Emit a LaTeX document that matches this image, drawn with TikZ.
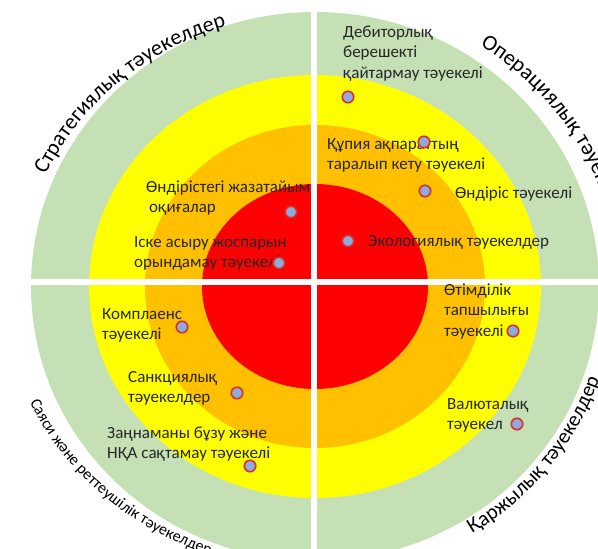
\documentclass[tikz,border=0pt]{standalone}
\usepackage{fontspec}
\setmainfont{Carlito}
\usetikzlibrary{decorations.text}
\definecolor{ringgreen}{HTML}{C5E0B4}
\definecolor{ringyellow}{HTML}{FFFF00}
\definecolor{ringorange}{HTML}{FFC000}
\definecolor{ringred}{HTML}{FF0000}
\definecolor{dotblue}{HTML}{8FAADC}
\definecolor{dotrim}{HTML}{D9302C}
\definecolor{inktext}{HTML}{262626}
\newcommand{\lblfont}{\fontsize{17}{20.5}\selectfont}
\newcommand{\arcfont}{\fontsize{22}{25}\selectfont}
\newcommand{\smallarcfont}{\fontsize{16}{19}\selectfont}

\begin{document}
\begin{tikzpicture}
[x=1pt,y=1pt,
 risk/.style={circle,draw=dotrim,fill=dotblue,line width=1.6pt,inner sep=0pt,minimum size=11.5pt},
 lbl/.style={anchor=north west,align=left,inner sep=0pt,text=inktext,font=\lblfont},
 band/.style={fill=white,draw=none}]
\useasboundingbox (0,0) rectangle (598,549);
\clip (0,0) rectangle (598,549);
\coordinate (C) at (315,262.5);

\fill[ringgreen] (C) ellipse [x radius=284, y radius=274.5];
\fill[ringyellow] (C) ellipse [x radius=226, y radius=211.5];
\fill[ringorange] (C) ellipse [x radius=170, y radius=161.5];
\fill[ringred] (C) ellipse [x radius=113, y radius=102.5];

\fill[band] (311,0) rectangle (317,549);
\fill[band] (0,264) rectangle (598,270);

\path[decorate,decoration={text along path,text align=center,
    text={|\arcfont|Стратегиялық тәуекелдер}}]
  ([shift={(166:295 and 273)}]C) arc[start angle=166,end angle=98,x radius=295,y radius=273];
\path[decorate,decoration={text along path,text align=left,
    text={|\arcfont|Операциялық тәуекелдер}}]
  ([shift={(57:303 and 287)}]C) arc[start angle=57,end angle=-20,x radius=303,y radius=287];
\path[decorate,decoration={text along path,text align=center,
    text={|\fontsize{21}{24}\selectfont|Қаржылық тәуекелдер}}]
  ([shift={(-59:300 and 290)}]C) arc[start angle=-59,end angle=-18,x radius=300,y radius=290];
\path[decorate,decoration={text along path,text align=center,
    text={|\smallarcfont|Саяси және реттеушілік тәуекелдер}}]
  ([shift={(201:312 and 285)}]C) arc[start angle=201,end angle=253,x radius=312,y radius=285];

\node[lbl] (debt) at (343,526.4) {\strut Дебиторлық\\берешекті\\қайтармау тәуекелі};
\node[lbl] (leak) at (327,414.4) {\strut Құпия ақпараттың\\таралып кету тәуекелі};
\node[lbl] (prod) at (455,365.4) {\strut Өндіріс тәуекелі};
\node[lbl] (eco) at (368,317.4) {\strut Экологиялық тәуекелдер};
\node[lbl] (acc) at (146,371.4) {\strut Өндірістегі жазатайым\\\hspace*{3pt}оқиғалар};
\node[lbl] (plan) at (134,316.4) {\strut Іске асыру жоспарын\\орындамау тәуекелі};
\node[lbl] (comp) at (102,244.4) {\strut Комплаенс\\тәуекелі};
\node[lbl] (sanc) at (128,181.4) {\strut Санкциялық\\тәуекелдер};
\node[lbl] (law) at (107,125.4) {\strut Заңнаманы бұзу және\\НҚА сақтамау тәуекелі};
\node[lbl] (liq) at (444,268.4) {\strut Өтімділік\\тапшылығы\\тәуекелі};
\node[lbl] (fx) at (447,154.4) {\strut Валюталық\\тәуекел};

\node[risk] (debtdot) at (348,452) {};
\node[risk] (leakdot) at (424,407) {};
\node[risk] (proddot) at (425,358) {};
\node[risk] (ecodot) at (348,308) {};
\node[risk] (accdot) at (291,337) {};
\node[risk] (plandot) at (279,286) {};
\node[risk] (compdot) at (182,222) {};
\node[risk] (sancdot) at (237,156) {};
\node[risk] (lawdot) at (250,83) {};
\node[risk] (liqdot) at (513,218) {};
\node[risk] (fxdot) at (517,125) {};
\end{tikzpicture}
\end{document}
